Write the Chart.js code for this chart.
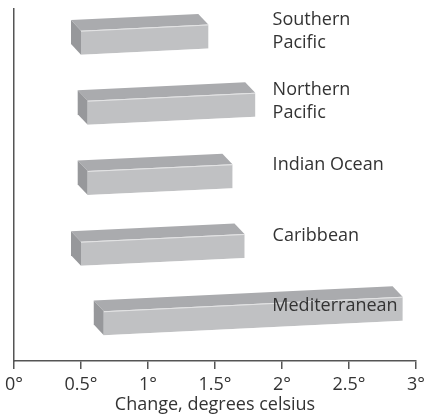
<!DOCTYPE html>
<html>
<head>
<meta charset="utf-8">
<script src="https://cdn.jsdelivr.net/npm/chart.js@4/dist/chart.umd.min.js"></script>
<style>
  html, body { margin: 0; padding: 0; background: #fff; }
  #wrap { position: relative; width: 427px; height: 415px; }
</style>
</head>
<body>
<div id="wrap"><canvas id="chart"></canvas></div>
<script>
// Sea regions, each name split into its display lines
const regions = [
  ['Southern', 'Pacific'],
  ['Northern', 'Pacific'],
  ['Indian Ocean'],
  ['Caribbean'],
  ['Mediterranean']
];
// Range of warming for each region, degrees celsius
const rangeLow  = [0.50, 0.55, 0.55, 0.50, 0.67];
const rangeHigh = [1.45, 1.80, 1.63, 1.72, 2.90];
// Axis ticks
const tickValues = [0, 0.5, 1, 1.5, 2, 2.5, 3];
const tickLabels = ['0°', '0.5°', '1°', '1.5°', '2°', '2.5°', '3°'];
// Where region names sit along the x axis (degrees)
const nameColumn = 1.93;

const FONT = { family: '"Open Sans", "Noto Sans", sans-serif', size: 18 };
const INK = '#333333';
const AXIS = '#555555';

// Look of the extruded boxes
const TILT = 0.048;      // slight upward slant to the right
const LIFT = 8;          // front face sits a little above the row centre
const DEPTH_X = 10, DEPTH_Y = 11;
const FRONT = '#c0c1c3', TOP = '#aaabae', SIDE = '#97989b';

const boxes3d = {
  id: 'boxes3d',
  afterDatasetsDraw(chart) {
    const ctx = chart.ctx;
    const area = chart.chartArea;
    const xc = (area.left + area.right) / 2;
    const meta = chart.getDatasetMeta(0);
    meta.data.forEach((bar) => {
      const p = bar.getProps(['x', 'base', 'y', 'height'], true);
      const xs = Math.min(p.x, p.base), xe = Math.max(p.x, p.base);
      const yf = p.y - LIFT;
      const t = yf - p.height / 2, b = yf + p.height / 2;
      ctx.save();
      // shear so horizontal edges rise gently to the right, pivoting on the plot centre
      ctx.transform(1, -TILT, 0, 1, 0, TILT * xc);
      // top face
      ctx.fillStyle = TOP;
      ctx.beginPath();
      ctx.moveTo(xs, t); ctx.lineTo(xe, t);
      ctx.lineTo(xe - DEPTH_X, t - DEPTH_Y); ctx.lineTo(xs - DEPTH_X, t - DEPTH_Y);
      ctx.closePath(); ctx.fill();
      // left end face
      ctx.fillStyle = SIDE;
      ctx.beginPath();
      ctx.moveTo(xs, t); ctx.lineTo(xs, b);
      ctx.lineTo(xs - DEPTH_X, b - DEPTH_Y); ctx.lineTo(xs - DEPTH_X, t - DEPTH_Y);
      ctx.closePath(); ctx.fill();
      // front face
      ctx.fillStyle = FRONT;
      ctx.fillRect(xs, t, xe - xs, b - t);
      // soft highlights along the front edges
      ctx.strokeStyle = 'rgba(255,255,255,0.55)';
      ctx.lineWidth = 1;
      ctx.beginPath();
      ctx.moveTo(xs, t + 0.5); ctx.lineTo(xe, t + 0.5);
      ctx.moveTo(xs, b + 0.5); ctx.lineTo(xe, b + 0.5);
      ctx.stroke();
      ctx.restore();
    });
  },
  afterDraw(chart) {
    const ctx = chart.ctx;
    const xScale = chart.scales.x;
    const meta = chart.getDatasetMeta(0);
    const colX = xScale.getPixelForValue(nameColumn);
    const lineH = 23;
    ctx.save();
    ctx.font = `${FONT.size}px ${FONT.family}`;
    ctx.fillStyle = INK;
    ctx.textBaseline = 'middle';
    meta.data.forEach((bar, i) => {
      const lines = regions[i];
      const cy = bar.y - (lines.length > 1 ? 13 : 20);
      const end = xScale.getPixelForValue(rangeHigh[i]);
      let x = colX;
      ctx.textAlign = 'left';
      if (end > colX + 60) {
        // long bar: name goes inside its right end
        x = end - 5;
        ctx.textAlign = 'right';
      }
      lines.forEach((ln, k) => {
        ctx.fillText(ln, x, cy + (k - (lines.length - 1) / 2) * lineH);
      });
    });
    ctx.restore();
  }
};

new Chart(document.getElementById('chart'), {
  type: 'bar',
  data: {
    labels: regions.map(r => r.join(' ')),
    datasets: [{
      data: rangeLow.map((lo, i) => [lo, rangeHigh[i]]),
      backgroundColor: 'rgba(0,0,0,0)',
      borderWidth: 0,
      barThickness: 24
    }]
  },
  options: {
    indexAxis: 'y',
    responsive: true,
    maintainAspectRatio: false,
    devicePixelRatio: 1,
    animation: false,
    layout: { padding: { left: 14, right: 11, top: 9, bottom: 0 } },
    plugins: { legend: { display: false }, tooltip: { enabled: false } },
    scales: {
      x: {
        type: 'linear',
        min: 0, max: 3,
        afterBuildTicks(scale) { scale.ticks = tickValues.map(v => ({ value: v })); },
        afterFit(scale) {
          scale.height = 54;
          // let the end labels hang into the page margins
          scale.paddingLeft = 0;
          scale.paddingRight = 0;
        },
        ticks: {
          autoSkip: false, maxRotation: 0, padding: 5,
          color: INK, font: FONT,
          callback: (v) => tickLabels[tickValues.indexOf(v)]
        },
        grid: { display: true, drawOnChartArea: false, drawTicks: true, tickLength: 8, color: AXIS, lineWidth: 1.5 },
        border: { display: true, color: AXIS, width: 1.5 },
        title: { display: true, text: 'Change, degrees celsius', color: INK, font: FONT, padding: { top: 0, bottom: -1 } }
      },
      y: {
        type: 'category',
        ticks: { display: false },
        grid: { display: false, drawTicks: false },
        border: { display: true, color: AXIS, width: 1.5 }
      }
    }
  },
  plugins: [boxes3d]
});
</script>
</body>
</html>
